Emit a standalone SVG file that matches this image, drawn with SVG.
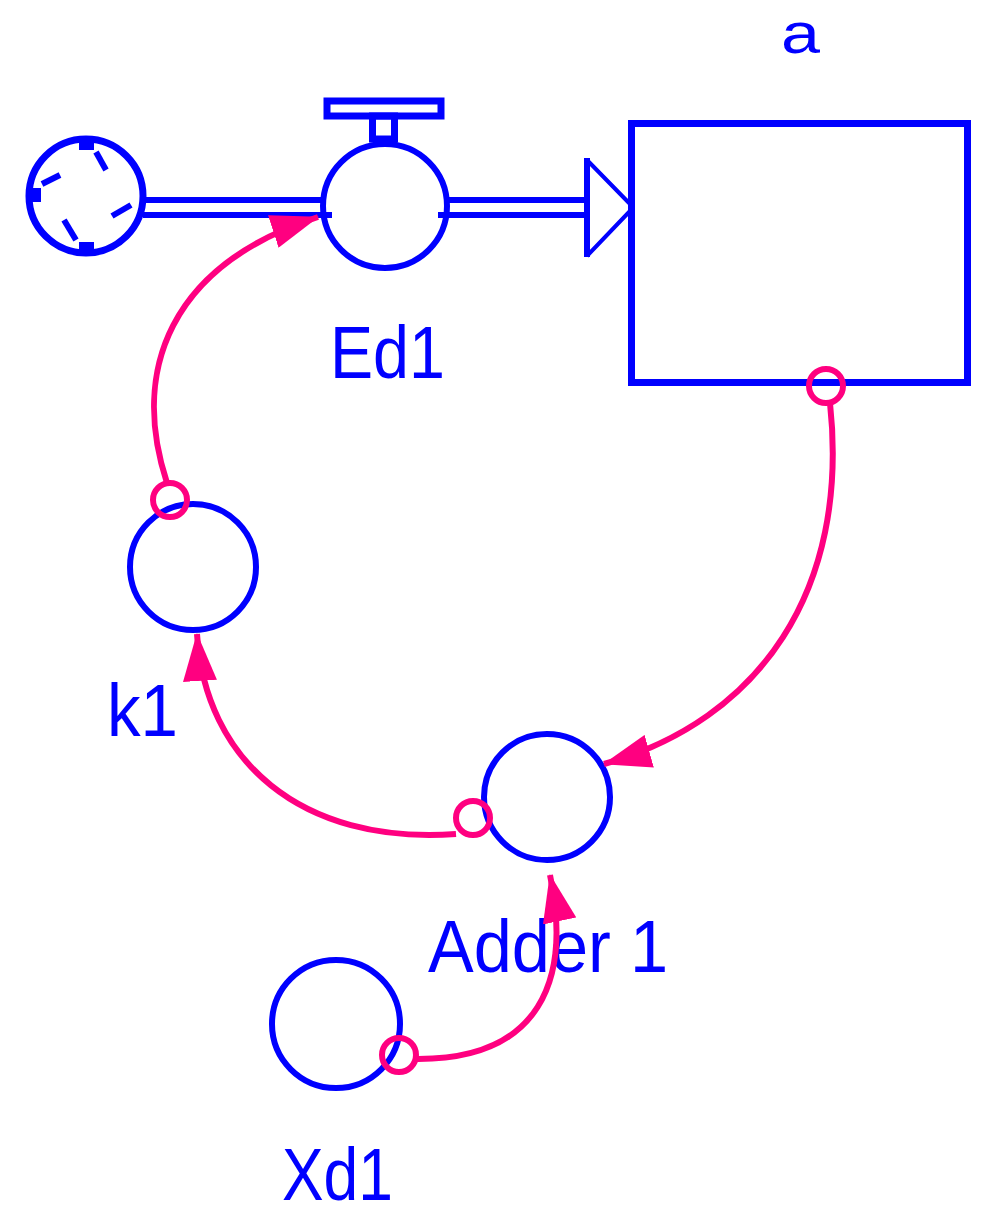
<svg xmlns="http://www.w3.org/2000/svg" width="986" height="1215" viewBox="0 0 986 1215">
  <style>
    .b { fill: none; stroke: #0000ff; }
    .bf { fill: #0000ff; }
    .lbl { font-family: "Liberation Sans", Arial, sans-serif; font-size: 74px; fill: #0000ff; }
    .lnk { fill: none; stroke: #ff0080; stroke-width: 6; }
    .tail { fill: none; stroke: #ff0080; stroke-width: 6; }
  </style>
  <defs>
    <marker id="arr" markerUnits="userSpaceOnUse" viewBox="0 0 48 34" markerWidth="48" markerHeight="34" refX="47" refY="17" orient="auto">
      <path d="M0,0 L48,17 L0,34 z" fill="#ff0080"/>
    </marker>
  </defs>
  <rect width="986" height="1215" fill="#ffffff"/>

  <g id="cloud">
    <circle class="b" cx="86" cy="196" r="57" stroke-width="7"/>
    <rect class="bf" x="79" y="141" width="15" height="9"/>
    <path class="b" stroke-width="6" d="M96,152 L106,170"/>
    <path class="b" stroke-width="6" d="M42,184 L60,175"/>
    <rect class="bf" x="29" y="188" width="12" height="14"/>
    <path class="b" stroke-width="6" d="M112,216 L131,205"/>
    <path class="b" stroke-width="6" d="M64,220 L76,240"/>
    <rect class="bf" x="79" y="242" width="15" height="9"/>
  </g>

  <g id="flow-Ed1">
    <path class="b" stroke-width="6" d="M143,200 L324,200 M143,215 L332,215"/>
    <path class="b" stroke-width="6" d="M446,200 L587,200 M438,215 L587,215"/>
    <path class="b" stroke-width="6" d="M587,158 L587,257"/>
    <path class="b" stroke-width="4" d="M587,160 L630,204 M587,256 L630,211"/>
    <circle class="b" cx="385" cy="206" r="62" stroke-width="6"/>
    <rect class="b" x="372.5" y="116" width="22" height="23" stroke-width="7"/>
    <rect class="b" x="327" y="101" width="114" height="15" stroke-width="7"/>
    <text class="lbl" x="330" y="378" textLength="115" lengthAdjust="spacingAndGlyphs">Ed1</text>
  </g>

  <g id="stock-a">
    <rect class="b" x="631.5" y="123.5" width="336" height="259" stroke-width="7"/>
    <text class="lbl" x="781" y="53" style="font-size:58px" textLength="39" lengthAdjust="spacingAndGlyphs">a</text>
  </g>

  <g id="aux-k1">
    <circle class="b" cx="193" cy="567" r="63" stroke-width="6"/>
    <text class="lbl" x="107" y="736" textLength="71" lengthAdjust="spacingAndGlyphs">k1</text>
  </g>

  <g id="aux-Adder1">
    <circle class="b" cx="547" cy="797" r="63" stroke-width="6"/>
    <text class="lbl" x="428" y="972" textLength="240" lengthAdjust="spacingAndGlyphs">Adder 1</text>
  </g>

  <g id="aux-Xd1">
    <circle class="b" cx="336" cy="1024" r="64" stroke-width="6"/>
    <text class="lbl" x="282" y="1200" textLength="111" lengthAdjust="spacingAndGlyphs">Xd1</text>
  </g>

  <g id="connectors">
    <circle class="tail" cx="170" cy="500" r="17"/>
    <path class="lnk" marker-end="url(#arr)" d="M167,483 C130,370 170,265 318,217"/>

    <circle class="tail" cx="826" cy="386" r="17"/>
    <path class="lnk" marker-end="url(#arr)" d="M830,403 C850,590 760,720 604,764"/>

    <circle class="tail" cx="473" cy="818" r="17"/>
    <path class="lnk" marker-end="url(#arr)" d="M456,834 C300,845 205,760 197,634"/>

    <circle class="tail" cx="399" cy="1055" r="17"/>
    <path class="lnk" marker-end="url(#arr)" d="M416,1059 C540,1060 572,980 550,875"/>
  </g>
</svg>
